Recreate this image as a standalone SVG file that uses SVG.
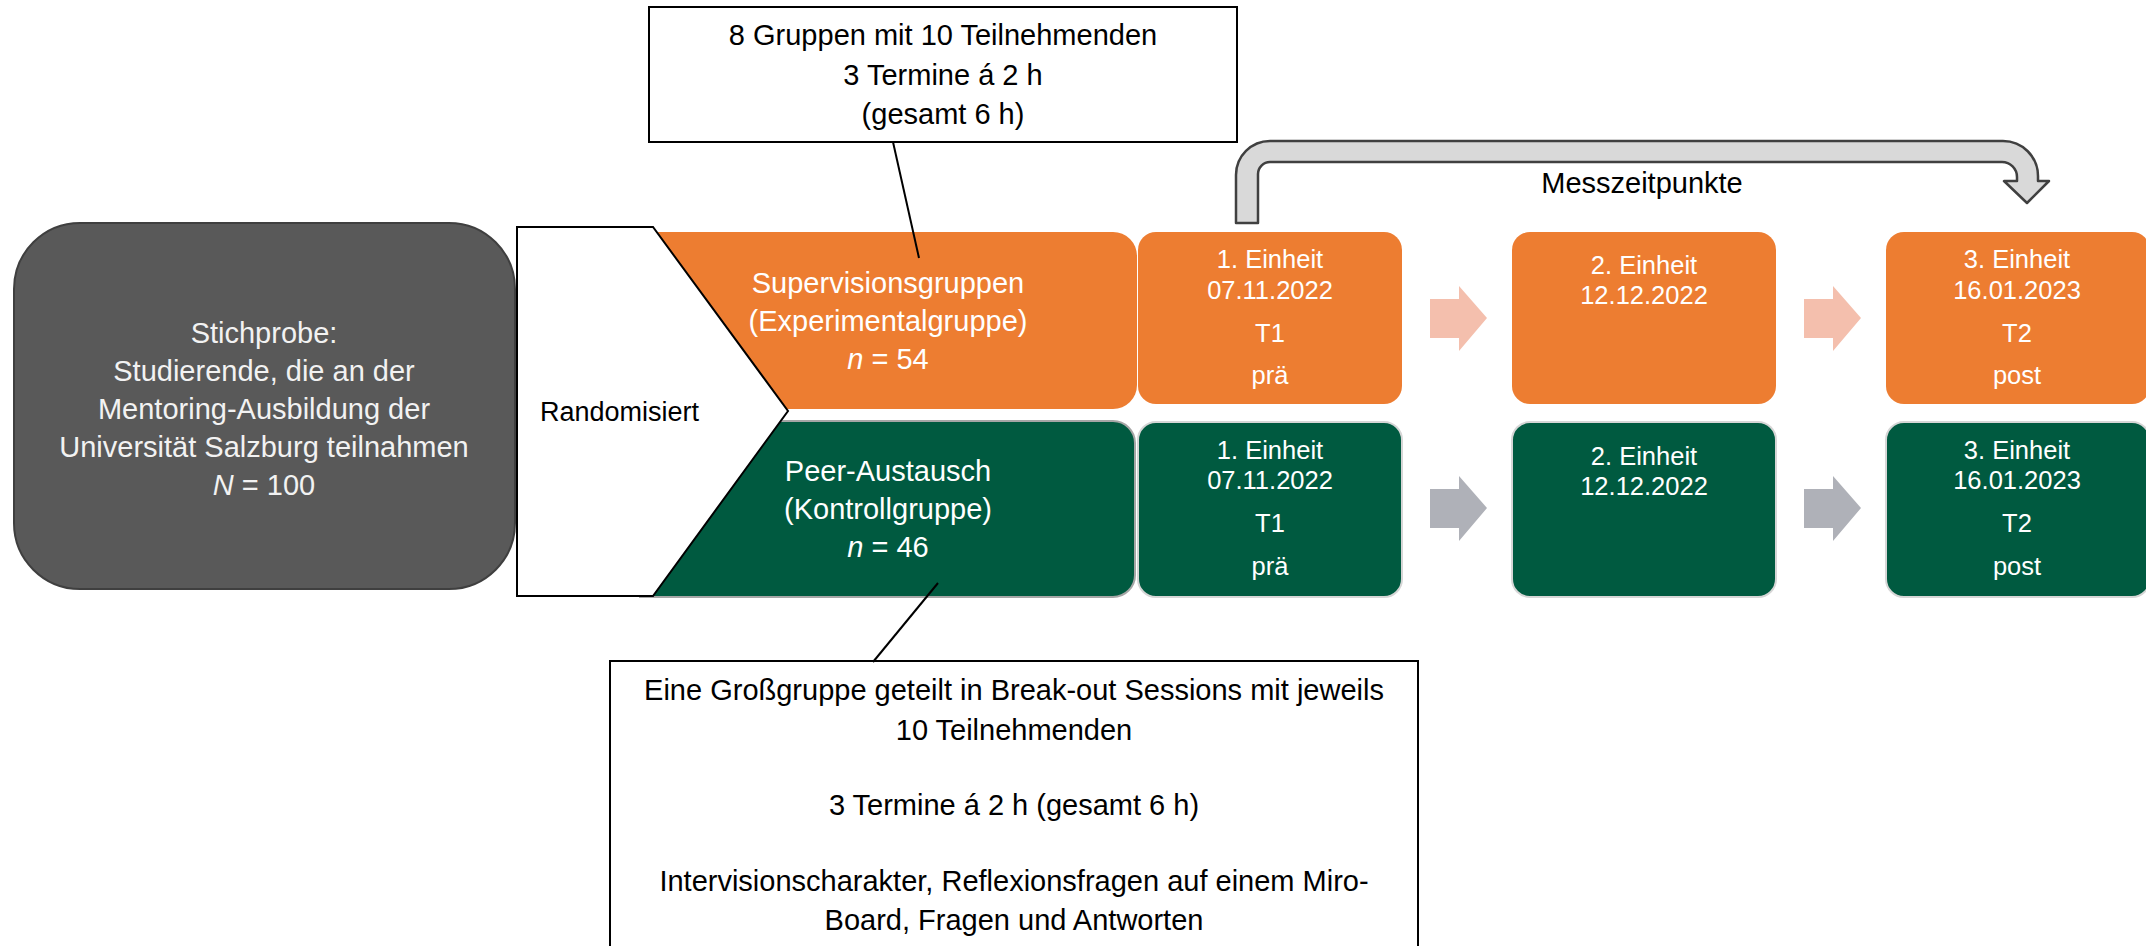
<svg xmlns="http://www.w3.org/2000/svg" width="2146" height="946" viewBox="0 0 2146 946">
<defs>
<style>
text{font-family:"Liberation Sans",Arial,sans-serif;text-anchor:middle}
.w{fill:#FFFFFF}
.k{fill:#000000}
.t29{font-size:29px}
.t25{font-size:25.5px}
.i{font-style:italic}
.orange{fill:#ED7D31}
.green{fill:#005A40;stroke:#D6D6D6;stroke-width:2}
.callout{fill:#FFFFFF;stroke:#000000;stroke-width:2}
.lead{stroke:#000000;stroke-width:2;fill:none}
.arrO{fill:#F4BFAD}
.arrG{fill:#AFB1B8}
</style>
</defs>
<rect width="2146" height="946" fill="#FFFFFF"/>

<g id="stichprobe">
<rect x="14" y="223" width="501" height="366" rx="66" ry="66" fill="#595959" stroke="#3F3F3F" stroke-width="2"/>
<text class="t29" fill="#F2F2F2" x="264" y="343">Stichprobe:</text>
<text class="t29" fill="#F2F2F2" x="264" y="381">Studierende, die an der</text>
<text class="t29" fill="#F2F2F2" x="264" y="419">Mentoring-Ausbildung der</text>
<text class="t29" fill="#F2F2F2" x="264" y="457">Universität Salzburg teilnahmen</text>
<text class="t29" fill="#F2F2F2" x="264" y="495"><tspan class="i">N</tspan> = 100</text>
</g>

<g id="supervision">
<path class="orange" d="M640,232 H1113 A24,24 0 0 1 1137,256 V385 A24,24 0 0 1 1113,409 H640 Z"/>
<text class="t29 w" x="888" y="293">Supervisionsgruppen</text>
<text class="t29 w" x="888" y="331">(Experimentalgruppe)</text>
<text class="t29 w" x="888" y="369"><tspan class="i">n</tspan> = 54</text>
</g>

<g id="peer">
<path d="M640,421 H1113 A22,22 0 0 1 1135,443 V575 A22,22 0 0 1 1113,597 H640 Z" fill="#005A40" stroke="#A6A6A6" stroke-width="2"/>
<text class="t29 w" x="888" y="481">Peer-Austausch</text>
<text class="t29 w" x="888" y="519">(Kontrollgruppe)</text>
<text class="t29 w" x="888" y="557"><tspan class="i">n</tspan> = 46</text>
</g>

<g id="randomisiert">
<polygon points="517,227 653,227 788,411 653,596 517,596" fill="#FFFFFF" stroke="#000000" stroke-width="2"/>
<text class="k" x="540" y="421" style="font-size:27px;text-anchor:start">Randomisiert</text>
</g>

<g id="o1">
<rect class="orange" x="1138" y="232" width="264" height="172" rx="18"/>
<text class="t25 w" x="1270" y="268">1. Einheit</text>
<text class="t25 w" x="1270" y="299">07.11.2022</text>
<text class="t25 w" x="1270" y="342">T1</text>
<text class="t25 w" x="1270" y="384">prä</text>
</g>
<g id="o2">
<rect class="orange" x="1512" y="232" width="264" height="172" rx="18"/>
<text class="t25 w" x="1644" y="274">2. Einheit</text>
<text class="t25 w" x="1644" y="304">12.12.2022</text>
</g>
<g id="o3">
<rect class="orange" x="1886" y="232" width="264" height="172" rx="18"/>
<text class="t25 w" x="2017" y="268">3. Einheit</text>
<text class="t25 w" x="2017" y="299">16.01.2023</text>
<text class="t25 w" x="2017" y="342">T2</text>
<text class="t25 w" x="2017" y="384">post</text>
</g>

<g id="g1">
<rect class="green" x="1138" y="422" width="264" height="175" rx="18"/>
<text class="t25 w" x="1270" y="459">1. Einheit</text>
<text class="t25 w" x="1270" y="489">07.11.2022</text>
<text class="t25 w" x="1270" y="532">T1</text>
<text class="t25 w" x="1270" y="575">prä</text>
</g>
<g id="g2">
<rect class="green" x="1512" y="422" width="264" height="175" rx="18"/>
<text class="t25 w" x="1644" y="465">2. Einheit</text>
<text class="t25 w" x="1644" y="495">12.12.2022</text>
</g>
<g id="g3">
<rect class="green" x="1886" y="422" width="264" height="175" rx="18"/>
<text class="t25 w" x="2017" y="459">3. Einheit</text>
<text class="t25 w" x="2017" y="489">16.01.2023</text>
<text class="t25 w" x="2017" y="532">T2</text>
<text class="t25 w" x="2017" y="575">post</text>
</g>

<g id="callout-top">
<rect class="callout" x="649" y="7" width="588" height="135"/>
<text class="t29 k" x="943" y="45">8 Gruppen mit 10 Teilnehmenden</text>
<text class="t29 k" x="943" y="85">3 Termine á 2 h</text>
<text class="t29 k" x="943" y="124">(gesamt 6 h)</text>
</g>

<g id="callout-bottom">
<rect class="callout" x="610" y="661" width="808" height="300"/>
<text class="t29 k" x="1014" y="700">Eine Großgruppe geteilt in Break-out Sessions mit jeweils</text>
<text class="t29 k" x="1014" y="740">10 Teilnehmenden</text>
<text class="t29 k" x="1014" y="815">3 Termine á 2 h (gesamt 6 h)</text>
<text class="t29 k" x="1014" y="891">Intervisionscharakter, Reflexionsfragen auf einem Miro-</text>
<text class="t29 k" x="1014" y="930">Board, Fragen und Antworten</text>
</g>

<g id="messzeitpunkte">
<path d="M1236,223 V175 A34,34 0 0 1 1270,141 H2003 A35,35 0 0 1 2038,176 V181 H2049 L2027,203 L2004,181 H2017 V177 A15,15 0 0 0 2002,162 H1270 A12,12 0 0 0 1258,174 V223 Z" fill="#D9D9D9" stroke="#404040" stroke-width="2.5" stroke-linejoin="round"/>
<text class="t29 k" x="1642" y="193">Messzeitpunkte</text>
</g>

<g id="connectors">
<line class="lead" x1="893" y1="142" x2="919" y2="258"/>
<line class="lead" x1="938" y1="583" x2="873" y2="662"/>
<polygon class="arrO" points="1430,299 1459,299 1459,286 1487,318 1459,351 1459,338 1430,338"/>
<polygon class="arrO" points="1804,299 1833,299 1833,286 1861,318 1833,351 1833,338 1804,338"/>
<polygon class="arrG" points="1430,489 1459,489 1459,476 1487,508 1459,541 1459,528 1430,528"/>
<polygon class="arrG" points="1804,489 1833,489 1833,476 1861,508 1833,541 1833,528 1804,528"/>
</g>
</svg>
